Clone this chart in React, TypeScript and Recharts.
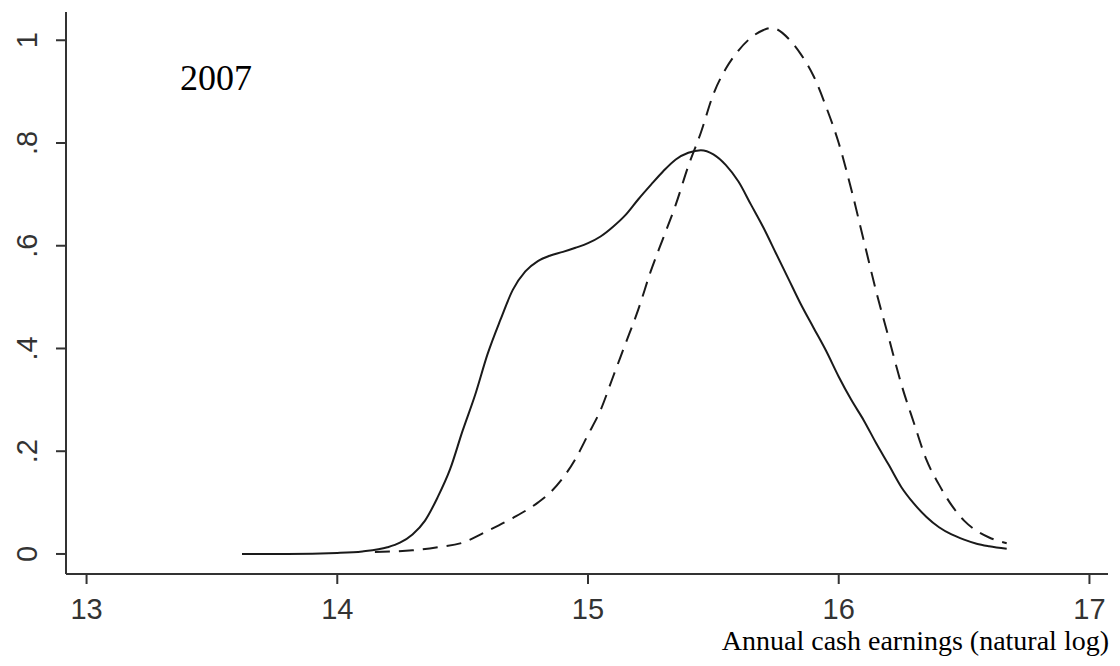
import React from "react";
import { LineChart, Line, XAxis, YAxis, Customized } from "recharts";

const solidX = [13.62, 13.8, 14.0, 14.1, 14.2, 14.25, 14.3, 14.35, 14.4, 14.45, 14.5, 14.55, 14.6, 14.65, 14.7, 14.75, 14.8, 14.85, 14.9, 14.95, 15.0, 15.05, 15.1, 15.15, 15.2, 15.25, 15.3, 15.35, 15.4, 15.45, 15.5, 15.55, 15.6, 15.65, 15.7, 15.75, 15.8, 15.85, 15.9, 15.95, 16.0, 16.05, 16.1, 16.15, 16.2, 16.25, 16.3, 16.35, 16.4, 16.45, 16.5, 16.55, 16.6, 16.67];
const solidY = [0, 0, 0.002, 0.005, 0.013, 0.022, 0.038, 0.065, 0.11, 0.165, 0.24, 0.31, 0.39, 0.455, 0.514, 0.55, 0.57, 0.581, 0.588, 0.596, 0.605, 0.618, 0.637, 0.66, 0.69, 0.718, 0.745, 0.768, 0.781, 0.786, 0.778, 0.757, 0.725, 0.68, 0.635, 0.585, 0.535, 0.485, 0.44, 0.395, 0.345, 0.3, 0.26, 0.215, 0.173, 0.13, 0.098, 0.072, 0.052, 0.038, 0.028, 0.02, 0.015, 0.01];

const dashX = [14.15, 14.3, 14.4, 14.5, 14.6, 14.7, 14.8, 14.85, 14.9, 14.95, 15.0, 15.05, 15.1, 15.15, 15.2, 15.25, 15.3, 15.35, 15.4, 15.45, 15.5, 15.55, 15.6, 15.65, 15.7, 15.73, 15.75, 15.8, 15.85, 15.9, 15.95, 16.0, 16.05, 16.1, 16.15, 16.2, 16.25, 16.3, 16.35, 16.4, 16.45, 16.5, 16.55, 16.6, 16.67];
const dashY = [0.004, 0.007, 0.013, 0.022, 0.045, 0.07, 0.1, 0.12, 0.148, 0.185, 0.232, 0.28, 0.345, 0.41, 0.475, 0.55, 0.615, 0.68, 0.755, 0.82, 0.895, 0.945, 0.98, 1.005, 1.02, 1.024, 1.022, 1.003, 0.972, 0.93, 0.87, 0.8, 0.71, 0.61, 0.51, 0.42, 0.33, 0.255, 0.183, 0.135, 0.095, 0.065, 0.045, 0.032, 0.021];

const xTicks = [13, 14, 15, 16, 17];
const yTicks = [0, 0.2, 0.4, 0.6, 0.8, 1];
const yTickLabels = ["0", ".2", ".4", ".6", ".8", "1"];
const titleText = "2007";
const xAxisTitle = "Annual cash earnings (natural log)";

const solidData = solidX.map((x, i) => ({ x, y: solidY[i] }));
const dashData = dashX.map((x, i) => ({ x, y: dashY[i] }));

const AXIS = "#333333";
const LINE = "#1a1a1a";
const SANS = "'Liberation Sans', Arial, sans-serif";
const SERIF = "'Liberation Serif', 'Times New Roman', serif";

const XTick = (props: any) => {
  const { x, payload } = props;
  return (
    <text x={x} y={619} textAnchor="middle" fontFamily={SANS} fontSize={29} fill={AXIS}>
      {String(payload.value)}
    </text>
  );
};

const YTick = (props: any) => {
  const { y, payload } = props;
  const idx = yTicks.findIndex((t) => Math.abs(t - payload.value) < 1e-9);
  const label = idx >= 0 ? yTickLabels[idx] : String(payload.value);
  return (
    <text
      transform={`translate(37, ${y}) rotate(-90)`}
      textAnchor="middle"
      fontFamily={SANS}
      fontSize={29}
      fill={AXIS}
    >
      {label}
    </text>
  );
};

const Texts = () => (
  <g>
    <text x={180} y={90} fontFamily={SERIF} fontSize={36} fill="#000">
      {titleText}
    </text>
    <text x={1109} y={650} textAnchor="end" fontFamily={SERIF} fontSize={28} fill="#000">
      {xAxisTitle}
    </text>
  </g>
);

export default function App() {
  return (
    <div style={{ position: "absolute", left: 0, top: 0, width: 1120, height: 666, background: "#fff" }}>
      <LineChart width={1120} height={666} margin={{ top: 12, left: 0, right: 12, bottom: 0 }}>
        <XAxis
          type="number"
          dataKey="x"
          domain={[12.918, 17.074]}
          ticks={xTicks}
          allowDataOverflow
          height={92}
          tickSize={10}
          tick={<XTick />}
          axisLine={{ stroke: AXIS, strokeWidth: 2 }}
          tickLine={{ stroke: AXIS, strokeWidth: 2 }}
        />
        <YAxis
          type="number"
          dataKey="y"
          domain={[-0.039, 1.055]}
          ticks={yTicks}
          allowDataOverflow
          width={66}
          tickSize={10}
          tick={<YTick />}
          axisLine={{ stroke: AXIS, strokeWidth: 2 }}
          tickLine={{ stroke: AXIS, strokeWidth: 2 }}
        />
        <Line
          data={solidData}
          dataKey="y"
          type="monotone"
          stroke={LINE}
          strokeWidth={2}
          dot={false}
          isAnimationActive={false}
        />
        <Line
          data={dashData}
          dataKey="y"
          type="monotone"
          stroke={LINE}
          strokeWidth={2}
          strokeDasharray="15 9"
          dot={false}
          isAnimationActive={false}
        />
        <Customized component={Texts} />
      </LineChart>
    </div>
  );
}
